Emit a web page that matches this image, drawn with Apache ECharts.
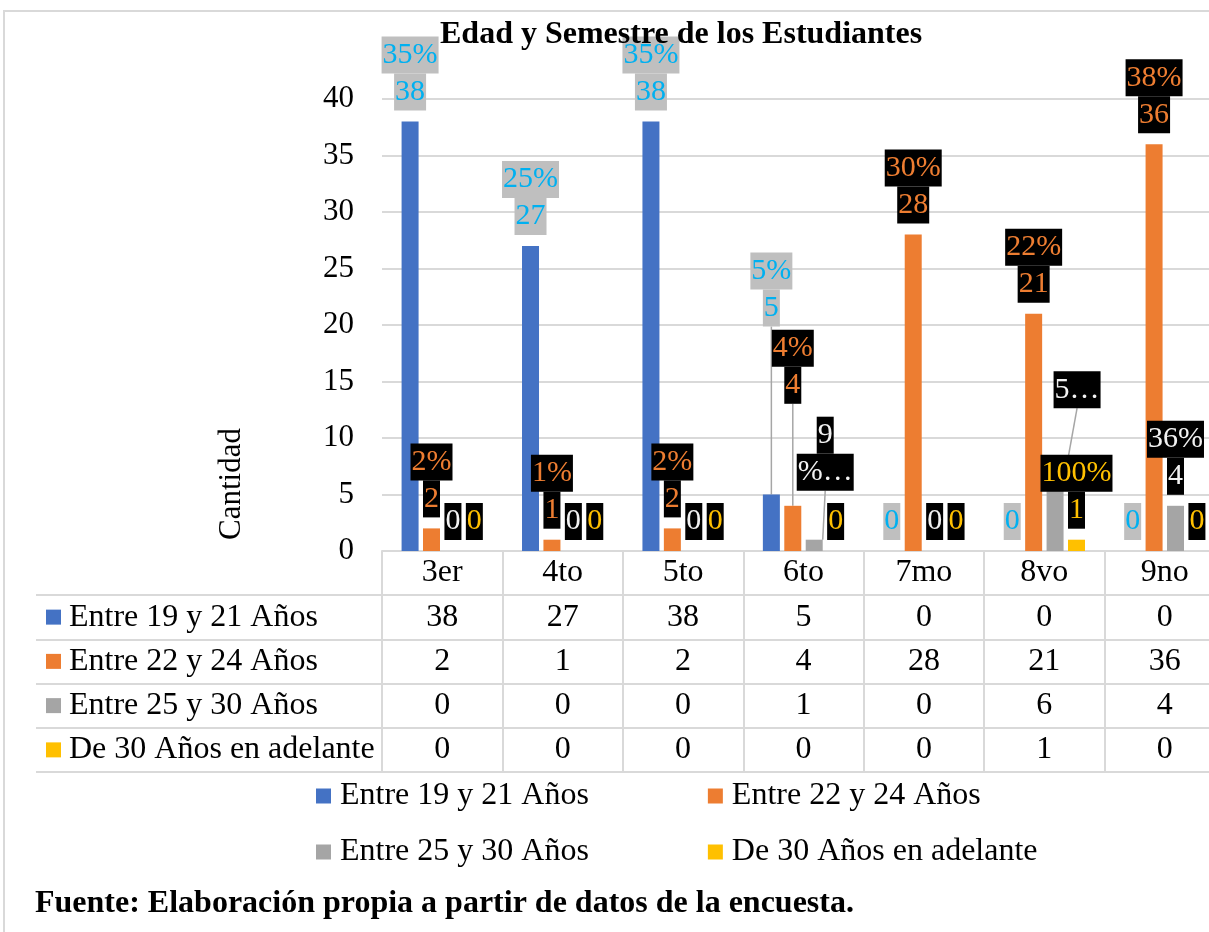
<!DOCTYPE html>
<html>
<head>
<meta charset="utf-8">
<title>Edad y Semestre de los Estudiantes</title>
<script src="https://cdn.jsdelivr.net/npm/echarts@6/dist/echarts.min.js"></script>
<style>
    html, body { margin: 0; padding: 0; background: #fff; overflow: hidden; }
    /* el grafico original sigue un poco mas alla del borde derecho */
    #chart { width: 1240px; height: 932px; }
</style>
</head>
<body>
<div id="chart"></div>
<script>
// datos del grafico
var semestres = ['3er', '4to', '5to', '6to', '7mo', '8vo', '9no'];
var rangos = ['Entre 19 y 21 Años', 'Entre 22 y 24 Años', 'Entre 25 y 30 Años', 'De 30 Años en adelante'];
var edad19a21 = [38, 27, 38, 5, 0, 0, 0];
var edad22a24 = [2, 1, 2, 4, 28, 21, 36];
var edad25a30 = [0, 0, 0, 1, 0, 6, 4];
var edad30mas = [0, 0, 0, 0, 0, 1, 0];
var yMin = 0, yMax = 40, yPaso = 5;

// etiquetas que Excel dejo cortadas
var textoCortado = { '2-3': ['9', '%…'], '2-5': ['5…'] };

var valores = [edad19a21, edad22a24, edad25a30, edad30mas];
var FONT = "'Liberation Serif', 'Times New Roman', serif";
var colores = ['#4472c4', '#ed7d31', '#a5a5a5', '#ffc000'];
var etiquetaColor = ['#00b0f0', '#ed7d31', '#f2f2f2', '#ffc000'];
var etiquetaFondo = ['#bfbfbf', '#000', '#000', '#000'];
// etiquetas movidas a mano (dx, dy)
var movidas = { '0-3': [0, -157], '1-3': [0, -91], '2-3': [11, -38], '2-5': [22, -64] };
var linea = '#d9d9d9';

function serieBarra(k) {
    var vals = valores[k];
    var total = vals.reduce(function (a, b) { return a + b; }, 0);
    return {
        name: rangos[k],
        type: 'bar',
        xAxisIndex: 0,
        yAxisIndex: 0,
        barWidth: 17,
        barGap: '26%',
        itemStyle: { color: colores[k] },
        data: vals.map(function (v, i) {
            return movidas[k + '-' + i] ? { value: v, labelLine: { show: true } } : v;
        }),
        label: {
            show: true,
            position: 'top',
            distance: 11,
            align: 'center',
            fontFamily: FONT,
            fontSize: 30,
            lineHeight: 37,
            formatter: function (p) {
                var corte = textoCortado[k + '-' + p.dataIndex];
                if (corte) {
                    return corte.map(function (t) { return '{t|' + t + '}'; }).join('\n');
                }
                if (p.value === 0) return '{t|0}';
                return '{t|' + Math.round(p.value / total * 100) + '%}\n{t|' + p.value + '}';
            },
            rich: {
                t: {
                    color: etiquetaColor[k],
                    backgroundColor: etiquetaFondo[k],
                    fontFamily: FONT,
                    fontSize: 30,
                    lineHeight: 37,
                    height: 37,
                    padding: [0, 1]
                }
            }
        },
        labelLine: { show: false, lineStyle: { color: '#a6a6a6', width: 1.5 } },
        labelLayout: function (p) {
            var m = movidas[k + '-' + p.dataIndex];
            return m ? { dx: m[0], dy: m[1] } : {};
        },
        z: 3
    };
}

// celdas de la tabla de datos
var celdas = [];
valores.forEach(function (vals, r) {
    vals.forEach(function (v, c) { celdas.push([c, r, v]); });
});

var richFilas = { t: { fontFamily: FONT, fontSize: 32, color: '#000', padding: [0, 0, 0, 8] } };
colores.forEach(function (c, i) {
    richFilas['m' + i] = { backgroundColor: c, width: 15, height: 15 };
});

var leyendaBase = {
    left: 311,
    itemWidth: 15,
    itemHeight: 15,
    itemGap: 119,
    icon: 'rect',
    selectedMode: false,
    textStyle: { fontFamily: FONT, fontSize: 32, color: '#000', lineHeight: 32, padding: [0, 0, 0, 4] }
};

var myChart = echarts.init(document.getElementById('chart'));
var option = {
    backgroundColor: '#fff',
    animation: false,
    title: [{
        text: 'Edad y Semestre de los Estudiantes',
        left: 440,
        top: 19,
        padding: 0,
        textStyle: { fontFamily: FONT, fontSize: 32, fontWeight: 'bold', color: '#000', lineHeight: 32 }
    }, {
        text: 'Fuente: Elaboración propia a partir de datos de la encuesta.',
        left: 35,
        top: 888,
        padding: 0,
        textStyle: { fontFamily: FONT, fontSize: 32, fontWeight: 'bold', color: '#000', lineHeight: 32 }
    }],
    legend: [
        Object.assign({ data: [rangos[0], rangos[1]], top: 775 }, leyendaBase),
        Object.assign({ data: [rangos[2], rangos[3]], top: 831 }, leyendaBase)
    ],
    grid: [
        { left: 382, width: 843, top: 99, height: 452 },
        { left: 382, width: 843, top: 595, height: 177 }
    ],
    xAxis: [{
        type: 'category',
        gridIndex: 0,
        data: semestres,
        axisLine: { show: true, lineStyle: { color: linea, width: 2 } },
        axisTick: { show: true, length: 44, lineStyle: { color: linea, width: 2 } },
        axisLabel: { fontFamily: FONT, fontSize: 32, color: '#000', margin: 6, lineHeight: 32 },
        splitLine: { show: false }
    }, {
        type: 'category',
        gridIndex: 1,
        data: semestres,
        axisLine: { show: false },
        axisTick: { show: false },
        axisLabel: { show: false },
        splitLine: { show: true, lineStyle: { color: linea, width: 2 } }
    }],
    yAxis: [{
        type: 'value',
        gridIndex: 0,
        min: yMin,
        max: yMax,
        interval: yPaso,
        name: 'Cantidad',
        nameLocation: 'middle',
        nameGap: 135,
        nameTextStyle: { fontFamily: FONT, fontSize: 31, color: '#000', padding: [0, 318, 0, 0] },
        axisLine: { show: false },
        axisTick: { show: false },
        axisLabel: { fontFamily: FONT, fontSize: 31, color: '#000', margin: 28 },
        splitLine: { lineStyle: { color: linea, width: 2 } }
    }, {
        type: 'category',
        gridIndex: 1,
        data: rangos,
        inverse: true,
        axisLine: { show: true, lineStyle: { color: linea, width: 2 } },
        axisTick: { show: true, length: 346, lineStyle: { color: linea, width: 2 } },
        axisLabel: {
            margin: 336,
            align: 'left',
            formatter: function (v, i) { return '{m' + i + '|}{t|' + v + '}'; },
            rich: richFilas
        },
        splitLine: { show: true, lineStyle: { color: linea, width: 2 } }
    }, {
        type: 'category',
        gridIndex: 1,
        data: rangos,
        inverse: true,
        offset: 346,
        axisLine: { show: true, lineStyle: { color: linea, width: 2 } },
        axisTick: { show: false },
        axisLabel: { show: false },
        splitLine: { show: false }
    }],
    series: [
        serieBarra(0),
        serieBarra(1),
        serieBarra(2),
        serieBarra(3),
        {
            type: 'scatter',
            xAxisIndex: 1,
            yAxisIndex: 1,
            symbolSize: 1,
            silent: true,
            itemStyle: { color: 'rgba(0,0,0,0)', opacity: 1 },
            label: {
                show: true,
                position: 'inside',
                fontFamily: FONT,
                fontSize: 32,
                color: '#000',
                textBorderWidth: 0,
                formatter: function (p) { return p.value[2]; }
            },
            data: celdas
        }
    ],
    graphic: [{
        type: 'rect',
        silent: true,
        z: -10,
        shape: { x: 4, y: 11, width: 1400, height: 1100 },
        style: { fill: 'none', stroke: linea, lineWidth: 2 }
    }]
};
myChart.setOption(option);
</script>
</body>
</html>
